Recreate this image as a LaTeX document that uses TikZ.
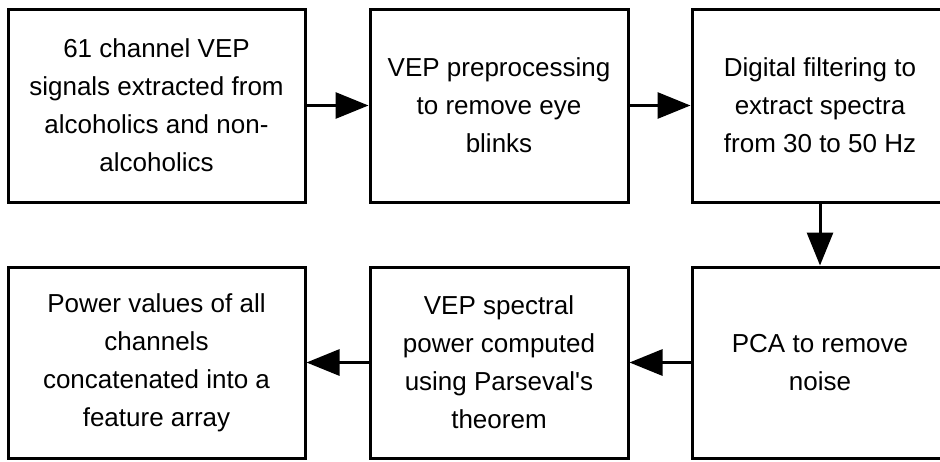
\documentclass[tikz,border=0pt]{standalone}
\usepackage{fontspec}
\setmainfont{Liberation Sans}[Ligatures=TeXOff]
\usetikzlibrary{arrows.meta}
\begin{document}
\begin{tikzpicture}[x=1pt,y=-1pt,
  blk/.style={draw=black,line width=3pt,align=center,inner sep=0pt,
    font=\fontsize{26}{38}\selectfont},
  flow/.style={line width=3pt,-{Triangle[length=33pt,width=26pt]}}]
\clip (0,0) rectangle (940,461);
\useasboundingbox (0,0) rectangle (940,461);
\node[blk,minimum width=297pt,minimum height=193pt] (b1) at (156.5,105.5)
  {61 channel VEP\\signals extracted from\\alcoholics and non-\\alcoholics};
\node[blk,minimum width=258pt,minimum height=193pt] (b2) at (499,105.5)
  {VEP preprocessing\\to remove eye\\blinks};
\node[blk,minimum width=256pt,minimum height=193pt] (b3) at (820,105.5)
  {Digital filtering to\\extract spectra\\from 30 to 50 Hz};
\node[blk,minimum width=256pt,minimum height=191pt] (b4) at (820,362.5)
  {PCA to remove\\noise};
\node[blk,minimum width=258pt,minimum height=191pt] (b5) at (499,362.5)
  {VEP spectral\\power computed\\using Parseval's\\theorem};
\node[blk,minimum width=297pt,minimum height=191pt] (b6) at (156.5,362.5)
  {Power values of all\\channels\\concatenated into a\\feature array};
\draw[flow] (b1) -- (b2);
\draw[flow] (b2) -- (b3);
\draw[flow] (b3) -- (b4);
\draw[flow] (b4) -- (b5);
\draw[flow] (b5) -- (b6);
\end{tikzpicture}
\end{document}
